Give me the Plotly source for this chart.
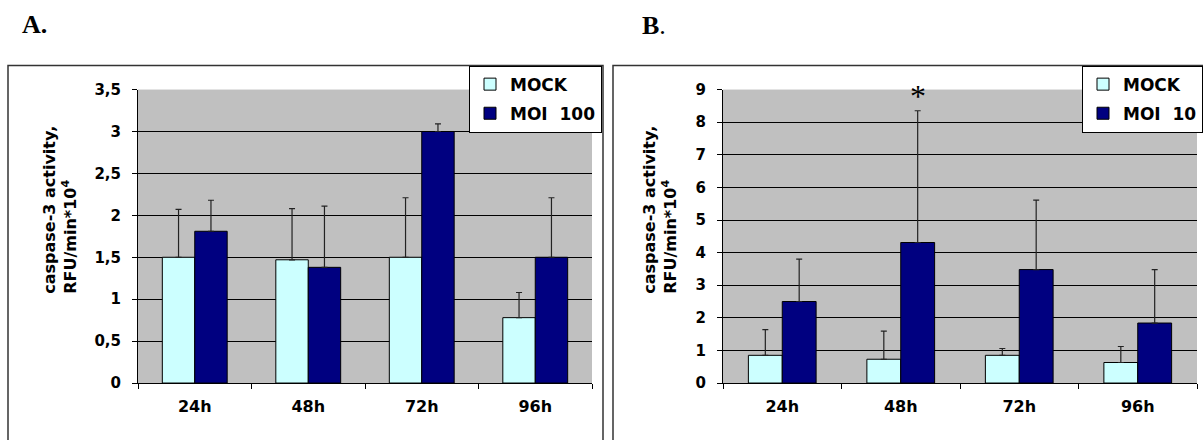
import plotly.graph_objects as go

W, H = 1203, 440

categories = ["24h", "48h", "72h", "96h"]

# Panel A
a_mock = [1.50, 1.47, 1.50, 0.78]
a_mock_err = [0.57, 0.61, 0.71, 0.30]
a_moi = [1.81, 1.38, 3.00, 1.50]
a_moi_err = [0.37, 0.73, 0.09, 0.71]
a_ticks = [0, 0.5, 1, 1.5, 2, 2.5, 3, 3.5]
a_ticklabels = ["0", "0,5", "1", "1,5", "2", "2,5", "3", "3,5"]

# Panel B
b_mock = [0.85, 0.73, 0.85, 0.63]
b_mock_err = [0.79, 0.86, 0.21, 0.49]
b_moi = [2.50, 4.31, 3.48, 1.84]
b_moi_err = [1.30, 4.04, 2.13, 1.64]
b_ticks = [0, 1, 2, 3, 4, 5, 6, 7, 8, 9]
b_ticklabels = [str(t) for t in b_ticks]

MOCK_C = "#CCFFFF"
MOI_C = "#000080"
FONT = "DejaVu Sans"


def px_x(p):
    return p / W


def px_y(p):
    return 1 - p / H


fig = go.Figure()


def add_bars(xa, ya, mock, mock_err, moi, moi_err, moi_name, legend):
    fig.add_trace(go.Bar(
        x=categories, y=mock, name="MOCK", xaxis=xa, yaxis=ya, legend=legend,
        legendgroup=legend + "mock",
        marker=dict(color=MOCK_C, line=dict(color="#000000", width=1)),
        error_y=dict(type="data", array=mock_err, symmetric=False,
                     arrayminus=[0] * len(mock), color="#222222", thickness=1.2, width=3),
    ))
    fig.add_trace(go.Bar(
        x=categories, y=moi, name=moi_name, xaxis=xa, yaxis=ya, legend=legend,
        legendgroup=legend + "moi",
        marker=dict(color=MOI_C, line=dict(color="#000000", width=1)),
        error_y=dict(type="data", array=moi_err, symmetric=False,
                     arrayminus=[0] * len(moi), color="#222222", thickness=1.2, width=3),
    ))


add_bars("x", "y", a_mock, a_mock_err, a_moi, a_moi_err, "MOI  100", "legend")
add_bars("x2", "y2", b_mock, b_mock_err, b_moi, b_moi_err, "MOI  10", "legend2")

tickfont = dict(family=FONT, size=15, color="#000000", weight="bold")
xtickfont = dict(family=FONT, size=16, color="#000000", weight="bold")
legfont = dict(family=FONT, size=17, color="#000000", weight="bold")

common_x = dict(type="category", tickson="boundaries", ticks="outside", ticklen=5,
                tickcolor="#000000", showline=True, linecolor="#000000", linewidth=1,
                showgrid=False, tickfont=xtickfont, ticklabelstandoff=9, fixedrange=True)


def y_axis(ticks, labels, rng):
    return dict(ticks="outside", ticklen=5, tickcolor="#000000", showline=True,
                linecolor="#000000", linewidth=1, showgrid=False, zeroline=False,
                tickvals=ticks, ticktext=labels, range=rng, tickfont=tickfont,
                ticklabelstandoff=8, fixedrange=True,
                minor=dict(tickvals=ticks[1:-1], showgrid=True, gridcolor="#000000",
                           gridwidth=1, ticks=""))


top, bottom = 84, 390

fig.update_layout(
    width=W, height=H,
    margin=dict(l=0, r=0, t=0, b=0),
    paper_bgcolor="#FFFFFF",
    plot_bgcolor="#C0C0C0",
    barmode="group",
    bargap=1.5 / 3.5,
    bargroupgap=0,
    showlegend=True,
    xaxis=dict(domain=[px_x(138), px_x(592)], anchor="y", **common_x),
    yaxis=dict(domain=[px_y(bottom), px_y(top)], anchor="x",
               **y_axis(a_ticks, a_ticklabels, [0, 3.5])),
    xaxis2=dict(domain=[px_x(723), px_x(1197)], anchor="y2", **common_x),
    yaxis2=dict(domain=[px_y(bottom), px_y(top)], anchor="x2",
                **y_axis(b_ticks, b_ticklabels, [0, 9])),
    legend=dict(x=px_x(602), y=px_y(59), xanchor="right", yanchor="top",
                bgcolor="#FFFFFF", bordercolor="#000000", borderwidth=1,
                font=legfont, tracegroupgap=4, itemwidth=30,
                itemclick=False, itemdoubleclick=False),
    legend2=dict(x=1.0, y=px_y(59), xanchor="right", yanchor="top",
                 bgcolor="#FFFFFF", bordercolor="#000000", borderwidth=1,
                 font=legfont, tracegroupgap=4, itemwidth=30,
                 itemclick=False, itemdoubleclick=False),
)

# Outer chart frames
fig.add_shape(type="rect", xref="paper", yref="paper",
              x0=px_x(8), x1=px_x(603), y0=px_y(460), y1=px_y(59),
              line=dict(color="#333333", width=1.5), layer="below")
fig.add_shape(type="rect", xref="paper", yref="paper",
              x0=px_x(613), x1=px_x(1215), y0=px_y(460), y1=px_y(59),
              line=dict(color="#333333", width=1.5), layer="below")

ytitle = "caspase-3 activity,<br>RFU/min*10<sup>4</sup>"
for cx in (60, 660):
    fig.add_annotation(text=ytitle, xref="paper", yref="paper",
                       x=px_x(cx), y=px_y(299), xanchor="center", yanchor="bottom",
                       textangle=-90, align="left", showarrow=False,
                       font=dict(family=FONT, size=16, color="#000000", weight="bold"))

# Panel labels
fig.add_annotation(text="<b>A.</b>", xref="paper", yref="paper", x=px_x(20), y=px_y(16),
                   xanchor="left", yanchor="middle", showarrow=False,
                   font=dict(family="Liberation Serif", size=26, color="#000000"))
fig.add_annotation(text="<b>B</b>.", xref="paper", yref="paper", x=px_x(640), y=px_y(17),
                   xanchor="left", yanchor="middle", showarrow=False,
                   font=dict(family="Liberation Serif", size=26, color="#000000"))

# Significance asterisk above 48h MOI bar (panel B)
fig.add_annotation(text="*", xref="x2", yref="y2", x=1 + 0.5 / 3.5,
                   y=b_moi[1] + b_moi_err[1], yanchor="bottom", yshift=-5,
                   showarrow=False,
                   font=dict(family="Liberation Serif", size=32, color="#000000"))

fig.write_html("out.html")
